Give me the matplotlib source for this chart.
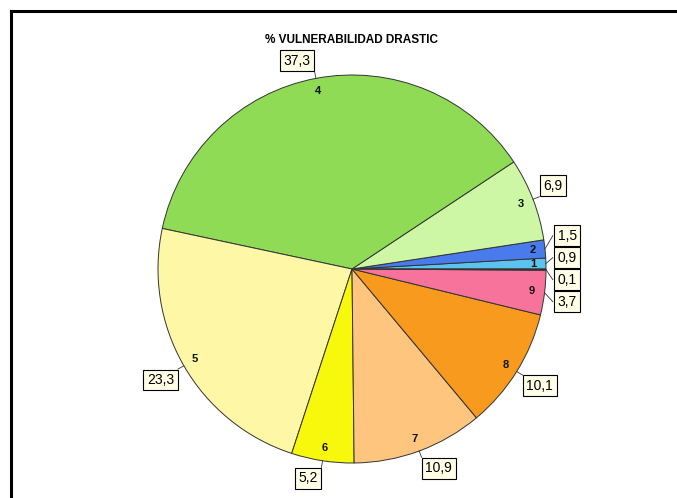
import numpy as np
import matplotlib
matplotlib.use("Agg")
import matplotlib.pyplot as plt
from matplotlib.lines import Line2D

# datos del grafico (porcentaje por clase de vulnerabilidad)
classes = ["1", "2", "3", "4", "5", "6", "7", "8", "9", ""]
values = [0.9, 1.5, 6.9, 37.3, 23.3, 5.2, 10.9, 10.1, 3.7, 0.1]
value_labels = ["0,9", "1,5", "6,9", "37,3", "23,3", "5,2", "10,9", "10,1", "3,7", "0,1"]
colors = ["#5cc3ef", "#4a7bec", "#cdf7a5", "#8fdb55", "#fdf7a6",
          "#f8f80c", "#fdc57e", "#f89a1e", "#f7739c", "#222244"]
title = "% VULNERABILIDAD DRASTIC"

plt.rcParams['font.family'] = ['Liberation Sans', 'DejaVu Sans']

W, H = 677, 498
cx, cy, R = 352, 269, 194   # centro y radio en pixeles

fig = plt.figure(figsize=(W / 100, H / 100), dpi=100)
fig.patch.set_facecolor("white")
ax = fig.add_axes([0, 0, 1, 1])

wedges, _ = ax.pie(values, colors=colors, startangle=0, counterclock=True,
                   radius=1.0, center=(0, 0), frame=True,
                   wedgeprops=dict(edgecolor="#333333", linewidth=0.7))
ax.set_xlim(-cx / R, (W - cx) / R)
ax.set_ylim((cy - H) / R, cy / R)
ax.axis("off")

total = sum(values)
cum = np.cumsum([0] + values[:-1])
mid = [(c + v / 2) / total * 360 for c, v in zip(cum, values)]

# numeros de clase dentro del sector
for name, a in zip(classes, mid):
    if not name:
        continue
    t = np.deg2rad(a)
    ax.text(0.935 * np.cos(t), 0.935 * np.sin(t), name, ha="center", va="center",
            fontsize=8, fontweight="bold", color="#111111")

# etiquetas con valor: las pequenas a la derecha se reparten en vertical
box = dict(boxstyle="square,pad=0.25", facecolor="#ffffe8", edgecolor="black", linewidth=0.8)
group = [i for i, a in enumerate(mid) if a < 12 or a > 348]
nat_y = [1.05 * np.sin(np.deg2rad(mid[i])) for i in group]
order = sorted(group, key=lambda i: -1.05 * np.sin(np.deg2rad(mid[i])))
sp = 22 / R
mean_y = np.mean(nat_y)
group_y = {i: mean_y + sp * ((len(order) - 1) / 2 - k) for k, i in enumerate(order)}

for i, (lab, a) in enumerate(zip(value_labels, mid)):
    t = np.deg2rad(a)
    ex, ey = np.cos(t), np.sin(t)
    if i in group_y:
        lx, ly = 1.035, group_y[i]
        ax.add_line(Line2D([ex, lx], [ey, ly], color="#333333", lw=0.6))
        ax.text(lx + 0.025, ly, lab, ha="left", va="center", fontsize=10, bbox=box)
        continue
    lx, ly = 1.035 * ex, 1.035 * ey
    ax.add_line(Line2D([ex, lx], [ey, ly], color="#333333", lw=0.6))
    ha = "left" if ex > 0 else "right"
    va = "bottom" if ey > 0 else "top"
    ox = 0.02 if ex > 0 else -0.02
    oy = 0.02 if ey > 0 else -0.02
    ax.text(lx + ox, ly + oy, lab, ha=ha, va=va, fontsize=10, bbox=box)

ax.text(0, (cy - 40) / R, title, ha="center", va="center", fontsize=8.5, fontweight="bold")

# marco superior e izquierdo
fig.add_artist(Line2D([11 / W, 1], [1 - 11 / H, 1 - 11 / H], color="black", lw=2.2))
fig.add_artist(Line2D([11 / W, 11 / W], [0, 1 - 11 / H], color="black", lw=2.2))

fig.savefig("out.png", dpi=100, facecolor="white")
